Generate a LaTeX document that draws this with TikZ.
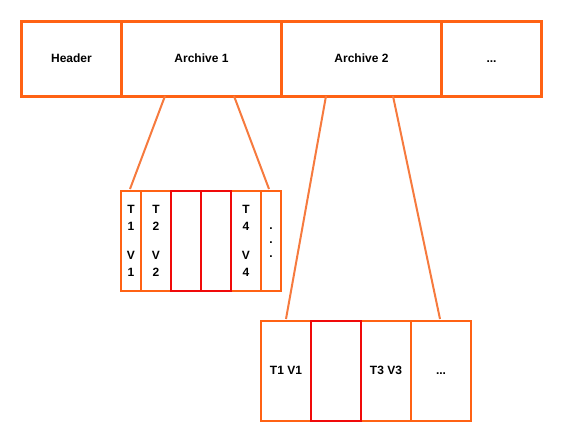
\documentclass[tikz,border=0pt]{standalone}
\usepackage{fontspec}
\setmainfont{Liberation Sans}
\begin{document}
\begin{tikzpicture}[x=1pt,y=-1pt,
  font=\bfseries\fontsize{12}{14}\selectfont,
  ob/.style={draw=boxorange,line width=3pt,text height=8.6pt,text depth=2.5pt},
  sb/.style={draw=boxorange,line width=2pt},
  one/.style={text height=8.6pt,text depth=2.5pt},
  rb/.style={draw=boxred,line width=2pt},
  stack/.style={sb,inner sep=0pt,align=center,font=\bfseries\fontsize{12}{17}\selectfont},
  conn/.style={draw=lineorange,line width=2pt}]
\definecolor{boxorange}{RGB}{255,98,20}
\definecolor{boxred}{RGB}{240,10,10}
\definecolor{lineorange}{RGB}{246,122,62}
\useasboundingbox (0,0) rectangle (566,440);
% top row
\node[ob,minimum width=100pt,minimum height=75pt,anchor=north west] (hdr) at (20,20) {Header};
\node[ob,minimum width=160pt,minimum height=75pt,anchor=north west] (a1) at (120,20) {Archive 1};
\node[ob,minimum width=160pt,minimum height=75pt,anchor=north west] (a2) at (280,20) {Archive 2};
\node[ob,minimum width=100pt,minimum height=75pt,anchor=north west] (dots) at (440,20) {...};
% small row
\node[stack,minimum width=20pt,minimum height=100pt,anchor=north west] (s1) at (120,190) {T\\1\\[12pt]V\\1};
\node[stack,minimum width=30pt,minimum height=100pt,anchor=north west] (s2) at (140,190) {T\\2\\[12pt]V\\2};
\node[stack,minimum width=30pt,minimum height=100pt,anchor=north west] (s5) at (230,190) {T\\4\\[12pt]V\\4};
\node[stack,minimum width=20pt,minimum height=100pt,anchor=north west,font=\bfseries\fontsize{12}{14}\selectfont] (s6) at (260,190) {\strut.\\.\\.\strut};
\node[rb,minimum width=30pt,minimum height=100pt,anchor=north west] (s3) at (170,190) {};
\node[rb,minimum width=30pt,minimum height=100pt,anchor=north west] (s4) at (200,190) {};
% bottom row
\node[sb,one,minimum width=50pt,minimum height=100pt,anchor=north west] (b1) at (260,320) {T1 V1};
\node[sb,one,minimum width=50pt,minimum height=100pt,anchor=north west] (b3) at (360,320) {T3 V3};
\node[sb,one,minimum width=60pt,minimum height=100pt,anchor=north west] (b4) at (410,320) {...};
\node[rb,minimum width=50pt,minimum height=100pt,anchor=north west] (b2) at (310,320) {};
% connectors
\coordinate (c1) at (165,96);
\coordinate (c2) at (234,96);
\coordinate (c3) at (326,96);
\coordinate (c4) at (393,96);
\coordinate (d1) at (130,189);
\coordinate (d2) at (269,189);
\coordinate (d3) at (286,319);
\coordinate (d4) at (440,319);
\draw[conn] (c1) -- (d1);
\draw[conn] (c2) -- (d2);
\draw[conn] (c3) -- (d3);
\draw[conn] (c4) -- (d4);
\end{tikzpicture}
\end{document}
